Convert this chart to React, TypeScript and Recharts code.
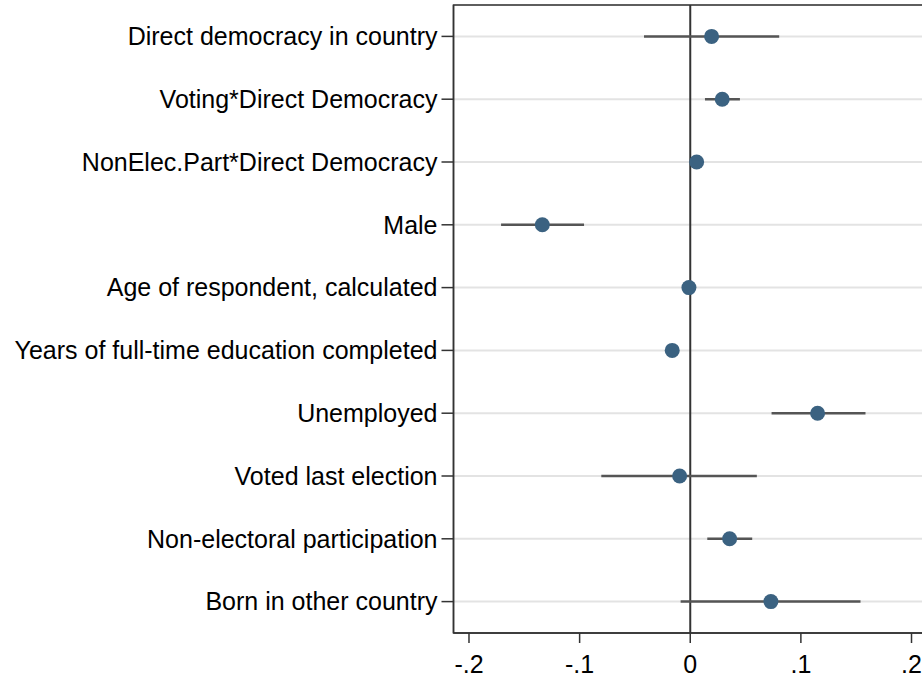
import {
  ComposedChart,
  Scatter,
  ErrorBar,
  XAxis,
  YAxis,
  CartesianGrid,
  ReferenceLine,
  ReferenceArea,
} from "recharts";

// Coefficient labels, top to bottom
const terms = [
  "Direct democracy in country",
  "Voting*Direct Democracy",
  "NonElec.Part*Direct Democracy",
  "Male",
  "Age of respondent, calculated",
  "Years of full-time education completed",
  "Unemployed",
  "Voted last election",
  "Non-electoral participation",
  "Born in other country",
];

// Point estimates and 95% confidence bounds
const estimates = [0.0193, 0.0289, 0.0058, -0.1337, -0.0012, -0.0163, 0.1151, -0.0096, 0.0356, 0.0729];
const lower = [-0.0418, 0.0133, 0.0038, -0.171, -0.0025, -0.0178, 0.0735, -0.0804, 0.0154, -0.0087];
const upper = [0.0804, 0.0449, 0.0078, -0.096, 0.0001, -0.0148, 0.1584, 0.0602, 0.056, 0.1539];

const xTicks = [-0.2, -0.1, 0, 0.1, 0.2];
const xLimit = 0.214;

const rows = terms.map((term, i) => ({
  term,
  pos: i + 1,
  est: estimates[i],
  ci: [estimates[i] - lower[i], upper[i] - estimates[i]],
}));

const fmtX = (v: number) => {
  if (v === 0) return "0";
  const s = Math.abs(v).toFixed(1).replace(/^0/, "");
  return v < 0 ? "-" + s : s;
};

const font = "'Liberation Sans', Arial, sans-serif";

export default function App() {
  return (
    <div
      style={{
        position: "absolute",
        left: 0,
        top: 0,
        width: 922,
        height: 679,
        overflow: "hidden",
        background: "#fff",
      }}
    >
      <ComposedChart
        width={935}
        height={679}
        data={rows}
        margin={{ top: 5, right: 8, bottom: 0, left: 0 }}
      >
        <CartesianGrid
          vertical={false}
          stroke="#e3e3e3"
          strokeWidth={2}
        />
        <XAxis
          type="number"
          dataKey="est"
          domain={[-xLimit, xLimit]}
          ticks={xTicks}
          tickFormatter={fmtX}
          allowDataOverflow
          height={46}
          tickSize={10}
          tickMargin={12}
          stroke="#333"
          strokeWidth={1.5}
          tick={{ fill: "#000", fontSize: 25, fontFamily: font }}
        />
        <YAxis
          type="number"
          dataKey="pos"
          reversed
          domain={[0.5, 10.5]}
          ticks={[1, 2, 3, 4, 5, 6, 7, 8, 9, 10]}
          tickFormatter={(v: number) => terms[v - 1]}
          width={453.5}
          tickSize={12}
          tickMargin={4}
          stroke="#333"
          strokeWidth={1.5}
          interval={0}
          tick={{ fill: "#000", fontSize: 25, fontFamily: font }}
        />
        <ReferenceArea
          x1={-xLimit}
          x2={xLimit}
          y1={0.5}
          y2={10.5}
          fill="none"
          stroke="#333"
          strokeWidth={1.5}
        />
        <ReferenceLine x={0} stroke="#333" strokeWidth={2} />
        <Scatter
          dataKey="pos"
          fill="#3b6281"
          isAnimationActive={false}
          shape={(p: any) => (
            <circle cx={p.cx} cy={p.cy} r={7.5} fill="#3b6281" />
          )}
        >
          <ErrorBar
            dataKey="ci"
            direction="x"
            width={0}
            stroke="#555"
            strokeWidth={2.5}
            isAnimationActive={false}
          />
        </Scatter>
      </ComposedChart>
    </div>
  );
}
